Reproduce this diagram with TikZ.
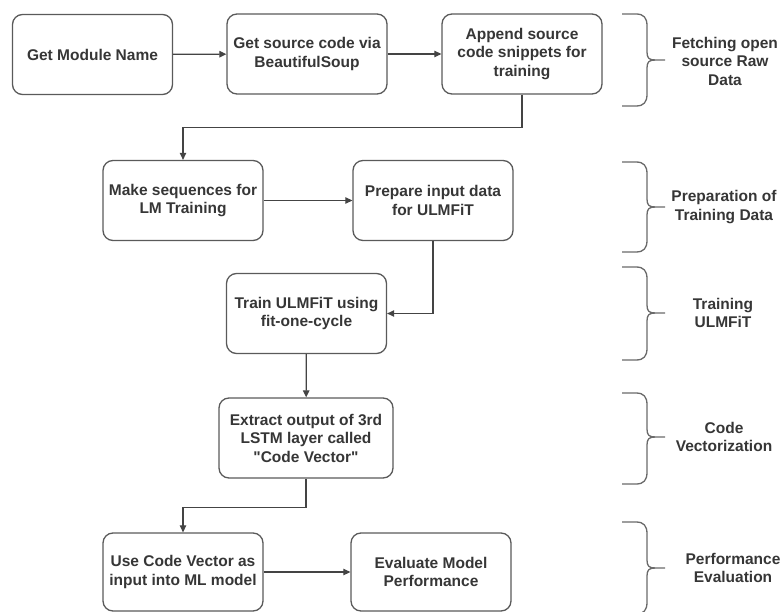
\documentclass[tikz,border=0pt]{standalone}
\usepackage{fontspec}
\setmainfont{Liberation Sans}
\usetikzlibrary{arrows.meta}
\definecolor{boxline}{HTML}{5A5A5A}
\definecolor{flowline}{HTML}{444444}
\definecolor{braceline}{HTML}{6A6A6A}
\definecolor{txt}{HTML}{363636}

% curly bracket grouping a stage: top y, middle (tip) y, bottom y
\newcommand\phasebrace[3]{%
  \draw[grp] (622,#1) -- (636,#1)
    .. controls (644,#1) and (647,#1+4) .. (647,#1+12)
    -- (647,#2-8)
    .. controls (647,#2-2) and (649,#2) .. (655,#2)
    -- (665,#2);
  \draw[grp] (655,#2)
    .. controls (649,#2) and (647,#2+2) .. (647,#2+8)
    -- (647,#3-12)
    .. controls (647,#3-4) and (644,#3) .. (636,#3)
    -- (622,#3);
}

\begin{document}
\begin{tikzpicture}[x=1pt,y=-1pt,
  stepbox/.style={draw=boxline, line width=1.3pt, rounded corners=10pt,
    fill=white, minimum width=160pt, minimum height=80pt, align=center,
    font=\bfseries\fontsize{15.5}{18.5}\selectfont, text=txt, inner sep=2pt},
  flow/.style={draw=flowline, line width=1.2pt,
    -{Triangle[length=7pt,width=6.5pt]}},
  grp/.style={draw=braceline, line width=1.3pt},
  grplabel/.style={align=center,
    font=\bfseries\fontsize{15.5}{18.5}\selectfont, text=txt}]
\useasboundingbox (0,0) rectangle (784,612);

% process steps
\node[stepbox] (modname) at (92.5,54.5) {Get Module Name};
\node[stepbox] (getsrc) at (307,54) {Get source code via\\BeautifulSoup};
\node[stepbox] (append) at (522,54) {Append source\\code snippets for\\training};
\node[stepbox] (mkseq) at (183,200.5) {Make sequences for\\LM Training};
\node[stepbox] (prep) at (433,200.5) {Prepare input data\\for ULMFiT};
\node[stepbox] (train) at (306.5,313.5) {Train ULMFiT using\\fit-one-cycle};
\node[stepbox, minimum width=174pt] (extract) at (306,438) {Extract output of 3rd\\LSTM layer called\\\textquotedbl Code Vector\textquotedbl};
\node[stepbox, minimum height=78pt] (usecv) at (183,572) {Use Code Vector as\\input into ML model};
\node[stepbox, minimum height=78pt] (evalm) at (431,572) {Evaluate Model\\Performance};

% connectors
\draw[flow] (modname) -- (getsrc);
\draw[flow] (getsrc) -- (append);
\draw[flow] (append.south) -- ++(0,33) -| (mkseq.north);
\draw[flow] (mkseq) -- (prep);
\draw[flow] (prep.south) |- (train.east);
\draw[flow] (train) -- (extract);
\draw[flow] (extract.south) -- ++(0,29) -| (usecv.north);
\draw[flow] (usecv) -- (evalm);

% stage brackets
\phasebrace{14}{60}{106}
\phasebrace{162}{207}{252}
\phasebrace{267}{313}{360}
\phasebrace{393}{437}{484}
\phasebrace{522}{568}{614}

% stage labels
\node[grplabel] (lfetch) at (725,61) {Fetching open\\source Raw\\Data};
\node[grplabel] (lprep) at (724,207) {Preparation of\\Training Data};
\node[grplabel] (ltrain) at (723,313) {Training\\ULMFiT};
\node[grplabel] (lvec) at (724,437) {Code\\Vectorization};
\node[grplabel] (lperf) at (733,568) {Performance\\Evaluation};
\end{tikzpicture}
\end{document}
